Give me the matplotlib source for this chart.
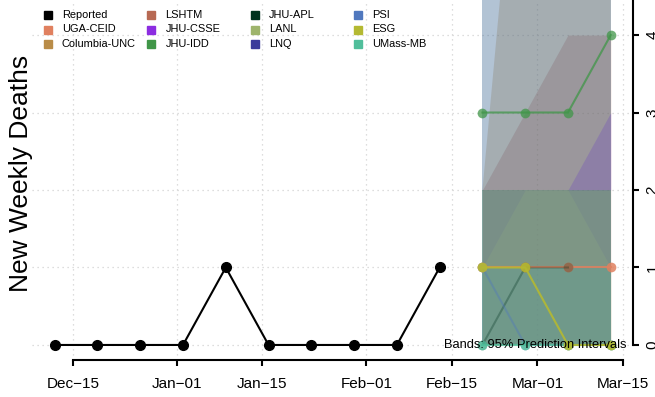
import numpy as np
import matplotlib
matplotlib.use('Agg')
import matplotlib.pyplot as plt
import matplotlib.dates as mdates
import matplotlib.transforms as mtransforms
from matplotlib.lines import Line2D

plt.rcParams['font.family'] = ['Liberation Sans', 'DejaVu Sans']

# reported weekly deaths
obs_dates = np.array(['2020-12-12', '2020-12-19', '2020-12-26', '2021-01-02', '2021-01-09',
                      '2021-01-16', '2021-01-23', '2021-01-30', '2021-02-06', '2021-02-13'],
                     dtype='datetime64[D]')
obs_deaths = [0, 0, 0, 0, 1, 0, 0, 0, 0, 1]

# forecast target weeks
fc_dates = np.array(['2021-02-20', '2021-02-27', '2021-03-06', '2021-03-13'], dtype='datetime64[D]')

models = ['UGA-CEID', 'Columbia-UNC', 'LSHTM', 'JHU-CSSE', 'JHU-IDD', 'JHU-APL',
          'LANL', 'LNQ', 'PSI', 'ESG', 'UMass-MB']
model_colors = ['#E0805F', '#B98C48', '#B76953', '#8C2DE1', '#409648', '#00321E',
                '#9EB46C', '#3C3C9B', '#5078BE', '#B4B932', '#50BE9B']

# point forecasts (nan = no forecast for that week)
uga_med = [1, 1, 1, 1]
jhu_idd_med = [3, 3, 3, 4]
jhu_apl_med = [0, 1, 1, np.nan]
psi_med = [1, 0, 0, 0]
esg_med = [1, 1, 0, 0]
umass_med = [0, 0, 0, 0]

# 95% prediction intervals
zero_lo = [0, 0, 0, 0]
columbia_hi = [2, 8, 9, 10]
lshtm_hi = [2, 3, 4, 4]
jhu_csse_lo = [2, 2, 2, 2]
jhu_csse_hi = [2, 2, 2, 3]
jhu_idd_hi = [2, 2, 2, 2]
jhu_apl_hi = [12, 12, 12, 12]
lanl_hi = [1, 2, 2, 1]
lnq_hi = [1, 1, 1, 1]
psi_hi = [12, 12, 12, 12]
umass_hi = [1, 1, 1, 1]

x_ticks = np.array(['2020-12-15', '2021-01-01', '2021-01-15', '2021-02-01',
                    '2021-02-15', '2021-03-01', '2021-03-15'], dtype='datetime64[D]')
x_labels = ['Dec\u221215', 'Jan\u221201', 'Jan\u221215', 'Feb\u221201', 'Feb\u221215',
            'Mar\u221201', 'Mar\u221215']
y_ticks = [0, 1, 2, 3, 4]

col = dict(zip(models, model_colors))
medians = {'UGA-CEID': uga_med, 'JHU-APL': jhu_apl_med, 'JHU-IDD': jhu_idd_med,
           'PSI': psi_med, 'UMass-MB': umass_med, 'ESG': esg_med}
bands = {'Columbia-UNC': (zero_lo, columbia_hi), 'LSHTM': (zero_lo, lshtm_hi),
         'JHU-CSSE': (jhu_csse_lo, jhu_csse_hi), 'JHU-IDD': (zero_lo, jhu_idd_hi),
         'JHU-APL': (zero_lo, jhu_apl_hi), 'LANL': (zero_lo, lanl_hi),
         'LNQ': (zero_lo, lnq_hi), 'PSI': (zero_lo, psi_hi), 'UMass-MB': (zero_lo, umass_hi)}
band_alpha = {'Columbia-UNC': 0.3, 'LSHTM': 0.3, 'JHU-CSSE': 0.28, 'JHU-IDD': 0.35,
              'JHU-APL': 0.15, 'LANL': 0.35, 'LNQ': 0.08, 'PSI': 0.28, 'UMass-MB': 0.2}
line_alpha = {'UGA-CEID': 0.85, 'JHU-APL': 0.3, 'JHU-IDD': 0.75, 'PSI': 0.4,
              'UMass-MB': 0.8, 'ESG': 0.9}

W, H = 655, 397
fig = plt.figure(figsize=(W / 100, H / 100), dpi=100)
ax = fig.add_axes([32 / W, 37 / H, 601 / W, 360 / H])

x0 = mdates.date2num(np.datetime64('2020-12-15'))
ax.set_xlim(x0 - 6.71, x0 + 90 + 1.64)
ax.set_ylim(-0.194, 4.452)

ax.grid(True, color='#d3d3d3', linestyle=(0, (1, 3)), linewidth=0.9, zorder=0)
ax.set_axisbelow(True)

# bands
for m in models:
    if m in bands:
        lo, hi = bands[m]
        ax.fill_between(fc_dates, lo, hi, color=col[m], alpha=band_alpha[m],
                        linewidth=0, zorder=1)

# reported
ax.plot(obs_dates, obs_deaths, '-o', color='black', lw=1.5, ms=7, zorder=3)

# forecasts
for m in medians:
    ax.plot(fc_dates, medians[m], '-o', color=col[m], lw=1.5, ms=7,
            alpha=line_alpha[m], markeredgewidth=0, zorder=4)

ax.set_xticks(x_ticks)
ax.set_xticklabels(x_labels)
ax.set_yticks(y_ticks)
ax.yaxis.tick_right()
ax.tick_params(axis='x', direction='out', length=4, width=1.5, labelsize=11, pad=8)
ax.tick_params(axis='y', direction='out', length=4, width=1.5, labelsize=11, pad=5,
               labelrotation=90)
for lab in ax.get_yticklabels():
    lab.set_verticalalignment('center')

for s in ['left', 'top']:
    ax.spines[s].set_visible(False)
ax.spines['bottom'].set_linewidth(1.5)
ax.spines['right'].set_linewidth(1.5)
ax.spines['bottom'].set_bounds(mdates.date2num(x_ticks[0]), mdates.date2num(x_ticks[-1]))
ax.spines['right'].set_bounds(0, 4.452)

trans = mtransforms.blended_transform_factory(ax.transAxes, ax.transData)
ax.text((626 - 32) / 601, -0.04, 'Bands: 95% Prediction Intervals', transform=trans,
        ha='right', va='baseline', fontsize=9.3, zorder=5)

fig.text(28.5 / W, 1 - 173.5 / H, 'New Weekly Deaths', rotation=90, rotation_mode='anchor',
         ha='center', va='baseline', fontsize=19)

# legend (4 columns, no box)
names = ['Reported'] + models
colors = ['black'] + model_colors
for i, (n, c) in enumerate(zip(names, colors)):
    cx = 47.5 + (i // 3) * 103.6
    cy = 15.3 + (i % 3) * 14.2
    fig.add_artist(Line2D([cx / W], [1 - cy / H], marker='s', ms=5.2, color=c,
                          linestyle='none', transform=fig.transFigure))
    fig.text((cx + 14.3) / W, 1 - cy / H, n, fontsize=7.9, va='center', ha='left')

fig.savefig('out.png', dpi=100)
